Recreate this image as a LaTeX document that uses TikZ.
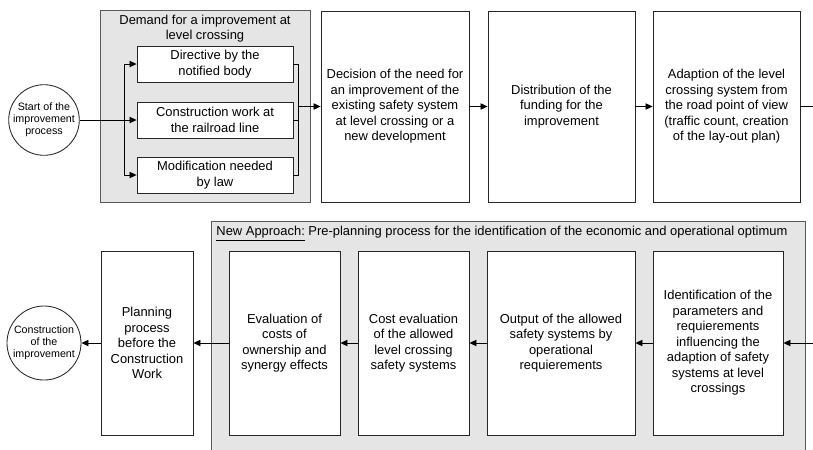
\documentclass[tikz,border=0pt]{standalone}
\usepackage{fontspec}
\setmainfont{Liberation Sans}
\usetikzlibrary{arrows.meta,positioning}
\definecolor{groupgray}{rgb}{0.9,0.9,0.9}

\tikzset{
  stepbox/.style={draw=black!85, fill=white, line width=0.6pt, inner sep=1pt,
    align=center, font=\fontsize{9.2}{11}\selectfont},
  groupbox/.style={draw=black!65, fill=groupgray, line width=0.6pt},
  grouptitle/.style={inner sep=0pt, align=center, font=\fontsize{9.2}{11}\selectfont},
  endpoint/.style={circle, draw=black!85, fill=white, line width=0.6pt, inner sep=0pt,
    align=center, font=\fontsize{7.6}{8.6}\selectfont},
}

\begin{document}
\begin{tikzpicture}[x=0.025cm, y=-0.025cm, >={Triangle[length=5pt,width=4.5pt]}, line width=0.6pt]
    \useasboundingbox (0,0) rectangle (813,449);
    %% top row: demand group
    \draw[groupbox] (100,10) rectangle (310,202);
    \node[grouptitle] (demand) at (205,28.5) {Demand for a improvement at\\level crossing};
    \node[endpoint, minimum size=1.75cm] (start) at (44,120) {Start of the\\improvement\\process};
    \node[stepbox, minimum width=3.9cm, minimum height=0.9cm] (notified) at (215,64) {Directive by the\\notified body};
    \node[stepbox, minimum width=3.9cm, minimum height=0.9cm] (railwork) at (215,120) {Construction work at\\the railroad line};
    \node[stepbox, minimum width=3.9cm, minimum height=0.9cm] (law) at (215,175) {Modification needed\\by law};
    \coordinate (lbus) at (124,120);
    \coordinate (rbus) at (298,106.5);
    \draw (start) -- (lbus);
    \draw[->] (lbus) |- (notified);
    \draw[->] (lbus) -- (railwork);
    \draw[->] (lbus) |- (law);
    \draw (notified) -| (rbus);
    \draw (law) -| (rbus);
    \draw (railwork.east) -- (railwork.east -| rbus);
    %% top row: process steps
    \node[stepbox, minimum width=3.7cm, minimum height=4.775cm] (decision) at (395,106.5) {Decision of the need for\\an improvement of the\\existing safety system\\at level crossing or a\\new development};
    \node[stepbox, minimum width=3.675cm, minimum height=4.775cm] (funding) at (561.5,106.5) {Distribution of the\\funding for the\\improvement};
    \node[stepbox, minimum width=3.675cm, minimum height=4.775cm] (roadview) at (726.5,106.5) {Adaption of the level\\crossing system from\\the road point of view\\(traffic count, creation\\of the lay-out plan)};
    \coordinate (outR) at (813,106.5);
    \draw[->] (rbus) -- (decision);
    \draw[->] (decision) -- (funding);
    \draw[->] (funding) -- (roadview);
    \draw (roadview) -- (outR);
    %% bottom row: new approach group
    \draw[groupbox] (211,221) rectangle (805,452);
    \node[grouptitle, anchor=west] (approach) at (216,234) {\underline{New Approach:} Pre-planning process for the identification of the economic and operational optimum};
    \node[stepbox, minimum width=3.25cm, minimum height=4.6cm] (ident) at (718,343) {Identification of the\\parameters and\\requierements\\influencing the\\adaption of safety\\systems at level\\crossings};
    \node[stepbox, minimum width=3.7cm, minimum height=4.6cm] (allowed) at (561,343) {Output of the allowed\\safety systems by\\operational\\requierements};
    \node[stepbox, minimum width=2.775cm, minimum height=4.6cm] (costeval) at (413.5,343) {Cost evaluation\\of the allowed\\level crossing\\safety systems};
    \node[stepbox, minimum width=2.775cm, minimum height=4.6cm] (ownership) at (284.5,343) {Evaluation of\\costs of\\ownership and\\synergy effects};
    \node[stepbox, minimum width=2.3cm, minimum height=4.6cm] (planning) at (147,343) {Planning\\process\\before the\\Construction\\Work};
    \node[endpoint, minimum size=1.85cm] (finish) at (44,343) {Construction\\of the\\improvement};
    \coordinate (inR) at (813,343);
    \draw[->] (inR) -- (ident);
    \draw[->] (ident) -- (allowed);
    \draw[->] (allowed) -- (costeval);
    \draw[->] (costeval) -- (ownership);
    \draw[->] (ownership) -- (planning);
    \draw[->] (planning) -- (finish);
\end{tikzpicture}
\end{document}
